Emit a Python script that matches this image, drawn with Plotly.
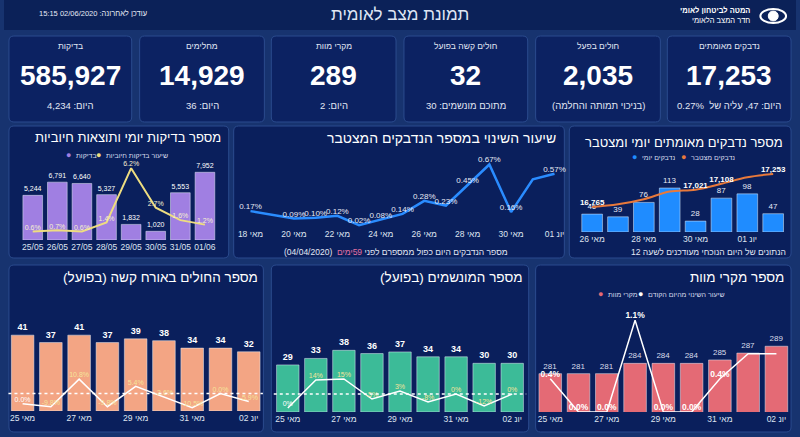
import plotly.graph_objects as go

W, H = 800, 437
FONT = "Liberation Sans, Arial, sans-serif"
NUM_FONT = "Liberation Sans, Arial, sans-serif"

# ---- data ----
kpi_titles = ["בדיקות", "מחלימים", "מקרי מוות", "חולים קשה בפועל", "חולים בפעל", "נדבקים מאומתים"]
kpi_values = [585927, 14929, 289, 32, 2035, 17253]
kpi_subs = ["היום: 4,234", "היום: 36", "היום: 2", "מתוכם מונשמים: 30",
            "(בניכוי תמותה והחלמה)", "היום: 47, עליה של  0.27%"]

tests_dates = ["25/05", "26/05", "27/05", "28/05", "29/05", "30/05", "31/05", "01/06"]
tests_count = [5244, 6791, 6640, 5327, 1832, 1020, 5553, 7952]
tests_pos_rate = [0.6, 0.7, 0.6, 1.4, 6.2, 2.7, 1.6, 1.2]

change_dates = ["מאי 18", "מאי 19", "מאי 20", "מאי 21", "מאי 22", "מאי 23", "מאי 24", "מאי 25",
                "מאי 26", "מאי 27", "מאי 28", "מאי 29", "מאי 30", "מאי 31", "יונ 01"]
change_pct = [0.17, 0.13, 0.09, 0.10, 0.12, 0.02, 0.08, 0.14, 0.28, 0.23, 0.45, 0.67, 0.16, 0.51, 0.57]
change_show = [1, 0, 1, 1, 1, 1, 1, 1, 1, 1, 1, 1, 1, 0, 1]

conf_dates = ["מאי 26", "מאי 27", "מאי 28", "מאי 29", "מאי 30", "מאי 31", "יונ 01", "יונ 02"]
conf_daily = [46, 39, 76, 113, 28, 87, 98, 47]
conf_cum = [16765, 16804, 16880, 16993, 17021, 17108, 17206, 17253]
conf_cum_show = [1, 0, 0, 0, 1, 1, 0, 1]

bottom_dates = ["מאי 25", "מאי 26", "מאי 27", "מאי 28", "מאי 29", "מאי 30", "מאי 31", "יונ 01", "יונ 02"]
severe_count = [41, 37, 41, 37, 39, 38, 34, 34, 32]
severe_change = [-7.5, -9.8, 10.8, -9.8, 5.4, -2.6, -10.5, 0.0, -5.9]
severe_labels = ["0.0%", "-9.8%", "10.8%", "-9.8%", "5.4%", "-2.6%", "-10.5%", "0.0%", "-5.9%"]
vent_count = [29, 33, 38, 36, 37, 34, 34, 30, 30]
vent_change = [-14, 14, 15, -5, 3, -8, 0, -12, 0]
vent_labels = ["0%", "14%", "15%", "-5%", "3%", "-8%", "0%", "-12%", "0%"]
death_count = [281, 281, 281, 284, 284, 284, 285, 287, 289]
death_change = [0.4, 0.0, 0.0, 1.1, 0.0, 0.0, 0.4, 0.7, 0.7]
death_show = [1, 1, 1, 1, 1, 1, 1, 0, 0]

# ---- helpers ----
def px(x):
    return x / W

def py(y):
    return 1 - y / H

def rtl(s):
    return "\u202b" + s + "\u202c"

def card_path(x0, y0, x1, y1, r=5):
    return (f"M {px(x0+r)},{py(y0)} L {px(x1-r)},{py(y0)} Q {px(x1)},{py(y0)} {px(x1)},{py(y0+r)} "
            f"L {px(x1)},{py(y1-r)} Q {px(x1)},{py(y1)} {px(x1-r)},{py(y1)} "
            f"L {px(x0+r)},{py(y1)} Q {px(x0)},{py(y1)} {px(x0)},{py(y1-r)} "
            f"L {px(x0)},{py(y0+r)} Q {px(x0)},{py(y0)} {px(x0+r)},{py(y0)} Z")

shapes = []
annotations = []

def card(x0, y0, x1, y1, fill="#0a1f5c"):
    shapes.append(dict(type="path", path=card_path(x0, y0, x1, y1), xref="paper", yref="paper",
                       fillcolor=fill, line=dict(color="#2b4b8e", width=1), layer="below"))

def txt(x, y, s, size, color="white", xanchor="center", family=FONT, bold=False):
    if bold:
        s = "<b>" + s + "</b>"
    annotations.append(dict(x=px(x), y=py(y), xref="paper", yref="paper", text=s, showarrow=False,
                            xanchor=xanchor, yanchor="middle", font=dict(size=size, color=color, family=family)))

def legend_item(x, y, color, label):
    txt(x, y, "●", 9, color=color, xanchor="right")
    txt(x + 1, y, rtl(label), 7, color="#d6dcec", xanchor="left")

# ---- frame ----
shapes.append(dict(type="rect", xref="paper", yref="paper", x0=0, x1=1, y0=py(30), y1=1,
                   fillcolor="#0b2158", line=dict(width=0), layer="below"))
txt(400, 14, rtl("תמונת מצב לאומית"), 17, color="#dfe5f3")
txt(90, 13, rtl("עודכן לאחרונה: 02/06/2020 15:15"), 7.5, color="#e6eaf5")
txt(756, 10, rtl("המטה לביטחון לאומי"), 7.5, xanchor="right", bold=True)
txt(756, 21, rtl("חדר המצב הלאומי"), 7.5, xanchor="right")
shapes.append(dict(type="circle", xref="paper", yref="paper", x0=px(764), x1=px(790), y0=py(23), y1=py(9),
                   line=dict(color="white", width=2), fillcolor="rgba(0,0,0,0)"))
shapes.append(dict(type="circle", xref="paper", yref="paper", x0=px(772), x1=px(782), y0=py(21), y1=py(11),
                   line=dict(color="white", width=1), fillcolor="white"))

kpi_boxes = [(5, 129), (137, 263), (270, 396), (404, 529), (537, 663), (670, 795)]
for (x0, x1), t, v, s in zip(kpi_boxes, kpi_titles, kpi_values, kpi_subs):
    card(x0, 36, x1, 122, fill="#0c2262")
    cx = (x0 + x1) / 2
    txt(cx, 46, rtl(t), 8.5, color="#e2e7f4")
    txt(cx, 75, f"{v:,}", 28, family=NUM_FONT, bold=True)
    txt(cx, 105, rtl(s), 9.5, color="#e2e7f4")

card(5, 126, 227, 258)
card(232, 126, 566, 258)
card(571, 126, 795, 258)
card(5, 265, 262, 432)
card(270, 265, 530, 432)
card(537, 265, 795, 432)

txt(221, 137, rtl("מספר בדיקות יומי ותוצאות חיוביות"), 13, xanchor="right")
txt(560, 138, rtl("שיעור השינוי במספר הנדבקים המצטבר"), 14, xanchor="right")
txt(789, 142, rtl("מספר נדבקים מאומתים יומי ומצטבר"), 13, xanchor="right")
txt(259, 277, rtl("מספר החולים באורח קשה (בפועל)"), 13.5, xanchor="right")
txt(526, 277, rtl("מספר המונשמים (בפועל)"), 13.5, xanchor="right")
txt(790, 277, rtl("מספר מקרי מוות"), 13.5, xanchor="right")

legend_item(70, 155, "#a07fe2", "בדיקות")
legend_item(100, 155, "#eedd80", "שיעור בדיקות חיוביות")
legend_item(641, 157, "#1f8cff", "נדבקים יומי")
legend_item(691, 157, "#e8793b", "נדבקים מצטבר")
legend_item(607, 294, "#e46a75", "מקרי מוות")
legend_item(647, 294, "white", "שיעור השינוי מהיום הקודם")

txt(396, 252, rtl("מספר הנדבקים היום כפול ממספרם לפני "
                  "<span style='color:#e56fa0'>59ימים</span>  (04/04/2020)"), 8.5, color="#e2e7f4")
txt(792, 252, rtl("הנתונים של היום הנוכחי מעודכנים לשעה 12"), 8.5, color="#e2e7f4", xanchor="right")

# ---- traces ----
fig = go.Figure()
tick_font = dict(size=8.5, color="#dfe4f0", family=FONT)

# tests
fig.add_trace(go.Bar(x=tests_dates, y=tests_count, marker_color="#a07fe2", xaxis="x", yaxis="y",
                     text=[f"{v:,}" for v in tests_count], textposition="outside", cliponaxis=False,
                     textfont=dict(size=7, color="white", family=FONT)))
fig.add_trace(go.Scatter(x=tests_dates, y=tests_pos_rate, mode="lines+text", xaxis="x", yaxis="y2",
                         line=dict(color="#eedd80", width=2), text=[f"{v:.1f}%" for v in tests_pos_rate],
                         textposition="top center", cliponaxis=False,
                         textfont=dict(size=7, color="#f6f0d0", family=FONT)))

# change rate
change_dates_r = [rtl(d) for d in change_dates]
fig.add_trace(go.Scatter(x=change_dates_r, y=change_pct, mode="lines+text", xaxis="x2", yaxis="y3",
                         line=dict(color="#2a8cff", width=2.5),
                         text=[f"{v:.2f}%" if s else "" for v, s in zip(change_pct, change_show)],
                         textposition="top center", cliponaxis=False,
                         textfont=dict(size=8, color="#e6eaf5", family=FONT)))

# confirmed
conf_dates_r = [rtl(d) for d in conf_dates]
fig.add_trace(go.Bar(x=conf_dates_r, y=conf_daily, marker_color="#1f8cff", xaxis="x3", yaxis="y4",
                     text=conf_daily, textposition="outside", cliponaxis=False,
                     textfont=dict(size=8, color="#e6eaf5", family=FONT)))
fig.add_trace(go.Scatter(x=conf_dates_r, y=conf_cum, mode="lines+text", xaxis="x3", yaxis="y5",
                         line=dict(color="#e8793b", width=2, shape="spline"),
                         text=[f"<b>{v:,}</b>" if s else "" for v, s in zip(conf_cum, conf_cum_show)],
                         textposition="top center", cliponaxis=False,
                         textfont=dict(size=8, color="white", family=FONT)))

bottom_r = [rtl(d) for d in bottom_dates]
# severe
fig.add_trace(go.Bar(x=bottom_r, y=severe_count, marker_color="#f3a584", xaxis="x4", yaxis="y6",
                     text=[f"<b>{v}</b>" for v in severe_count], textposition="outside", cliponaxis=False,
                     textfont=dict(size=9, color="white", family=FONT)))
fig.add_trace(go.Scatter(x=bottom_r, y=severe_change, mode="lines+text", xaxis="x4", yaxis="y7",
                         line=dict(color="white", width=1.5), text=severe_labels,
                         textposition="top center", cliponaxis=False,
                         textfont=dict(size=7, color=["white"] + ["#f5e49a"] * 8, family=FONT)))
# ventilated
fig.add_trace(go.Bar(x=bottom_r, y=vent_count, marker_color="#3cbb98", xaxis="x5", yaxis="y8",
                     text=[f"<b>{v}</b>" for v in vent_count], textposition="outside", cliponaxis=False,
                     textfont=dict(size=9, color="white", family=FONT)))
fig.add_trace(go.Scatter(x=bottom_r, y=vent_change, mode="lines+text", xaxis="x5", yaxis="y9",
                         line=dict(color="white", width=1.5), text=vent_labels,
                         textposition="top center", cliponaxis=False,
                         textfont=dict(size=7, color=["white"] + ["#f5e49a"] * 8, family=FONT)))
# deaths
fig.add_trace(go.Bar(x=bottom_r, y=death_count, marker_color="#e46a75", xaxis="x6", yaxis="y10",
                     text=death_count, textposition="outside", cliponaxis=False,
                     textfont=dict(size=8, color="#d8dcea", family=FONT)))
fig.add_trace(go.Scatter(x=bottom_r, y=death_change, mode="lines+text", xaxis="x6", yaxis="y11",
                         line=dict(color="white", width=1.5),
                         text=[f"<b>{v:.1f}%</b>" if s else "" for v, s in zip(death_change, death_show)],
                         textposition="top center", cliponaxis=False,
                         textfont=dict(size=8.5, color="white", family=FONT)))

for yref in ["y7", "y9"]:
    xr = "x4" if yref == "y7" else "x5"
    shapes.append(dict(type="line", xref=xr + " domain", yref=yref, x0=0, x1=1, y0=0, y1=0,
                       line=dict(color="white", width=1.5, dash="dot")))

def xa(x0, x1, anchor, **kw):
    d = dict(domain=[px(x0), px(x1)], anchor=anchor, showgrid=False, zeroline=False, showline=False,
             ticks="", tickfont=tick_font, fixedrange=True, tickangle=0)
    d.update(kw)
    return d

def ya(y_bottom, y_top, anchor, rng, **kw):
    d = dict(domain=[py(y_bottom), py(y_top)], anchor=anchor, range=rng, showgrid=False, zeroline=False,
             showline=False, showticklabels=False, fixedrange=True)
    d.update(kw)
    return d

def ov(base, anchor, rng):
    return dict(overlaying=base, anchor=anchor, range=rng, showgrid=False, zeroline=False,
                showline=False, showticklabels=False, fixedrange=True)

fig.update_layout(
    width=W, height=H, margin=dict(l=0, r=0, t=0, b=0, pad=0),
    paper_bgcolor="#17336f", plot_bgcolor="rgba(0,0,0,0)",
    showlegend=False, bargap=0.2, font=dict(family=FONT, color="white"),
    xaxis=xa(16.6, 215.4, "y"),
    yaxis=ya(240, 158, "x", [0, 9630]),
    yaxis2=ov("y", "x", [-0.16, 7.1]),
    xaxis2=xa(240, 562, "y3", range=[-0.41, 14.27],
              tickvals=change_dates_r[::2], ticktext=change_dates_r[::2]),
    yaxis3=ya(227, 157, "x2", [0, 0.75]),
    xaxis3=xa(581, 790, "y4", tickvals=conf_dates_r[::2], ticktext=conf_dates_r[::2]),
    yaxis4=ya(232, 160, "x3", [0, 185]),
    yaxis5=ov("y4", "x3", [16395, 17460]),
    xaxis4=xa(4.5, 261.5, "y6", tickvals=bottom_r[::2], ticktext=bottom_r[::2]),
    yaxis6=ya(411, 300, "x4", [0, 60]),
    yaxis7=ov("y6", "x4", [-13, 70]),
    xaxis5=xa(272.5, 527.5, "y8", tickvals=bottom_r[::2], ticktext=bottom_r[::2]),
    yaxis8=ya(412, 300, "x5", [0, 69]),
    yaxis9=ov("y8", "x5", [-18, 94]),
    xaxis6=xa(537.5, 794.5, "y10", tickvals=bottom_r[::2], ticktext=bottom_r[::2]),
    yaxis10=ya(412, 300, "x6", [269.8, 302.5]),
    yaxis11=ov("y10", "x6", [0, 1.344]),
    shapes=shapes, annotations=annotations,
)

# drop the browser's default page margin so the 800x437 figure fills the window
fig.write_html("out.html", config={"displayModeBar": False},
               post_script="document.body.style.margin='0';document.body.style.overflow='hidden';")
